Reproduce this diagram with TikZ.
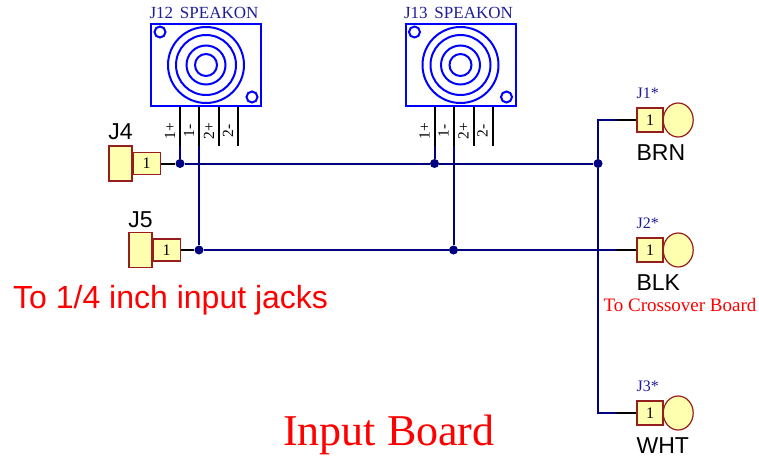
\documentclass[tikz,border=0pt]{standalone}
\usepackage{fontspec}
\setmainfont{Liberation Serif}
\setsansfont{Liberation Sans}
\usetikzlibrary{calc,positioning,shapes.geometric}
\definecolor{boxblue}{RGB}{0,0,255}
\definecolor{wirenavy}{RGB}{0,0,128}
\definecolor{refnavy}{RGB}{30,30,150}
\definecolor{plugred}{RGB}{150,30,30}
\definecolor{plugfill}{RGB}{255,255,176}

\begin{document}
\begin{tikzpicture}[
		x=1pt, y=-1pt,
		speakon/.style={
			rectangle,
			draw=boxblue,
			line width=2pt,
			minimum width=110pt,
			minimum height=82pt,
			inner sep=0pt
		},
		ring/.style={draw=boxblue, line width=2pt},
		pin/.style={draw=black, line width=2pt},
		wire/.style={draw=wirenavy, line width=2pt},
		junction/.style={circle, fill=wirenavy, inner sep=0pt, minimum size=9pt},
		plugbody/.style={
			rectangle,
			draw=plugred,
			fill=plugfill,
			line width=1.2pt,
			inner sep=0pt,
			minimum width=23pt,
			minimum height=35pt
		},
		plug/.style={
			rectangle,
			draw=plugred,
			fill=plugfill,
			line width=1.2pt,
			inner sep=0pt,
			minimum width=27pt,
			minimum height=22pt,
			font=\fontsize{16}{19}\selectfont
		},
		bulb/.style={
			ellipse,
			draw=plugred,
			fill=plugfill,
			line width=1.2pt,
			inner sep=0pt,
			minimum width=30pt,
			minimum height=34pt
		},
		refdes/.style={text=refnavy, font=\fontsize{16}{19}\selectfont, inner sep=0pt},
		pinlabel/.style={rotate=90, font=\fontsize{15.5}{18}\selectfont, inner sep=0pt},
		netlabel/.style={font=\sffamily\fontsize{23}{28}\selectfont, inner sep=0pt},
		note/.style={text=red, inner sep=0pt}
		]
		\useasboundingbox (0,0) rectangle (759,458);

		\node[speakon] (j12) at (206,65) {};
		\node[speakon] (j13) at (460.5,65) {};
		\node[refdes, font=\fontsize{17}{20}\selectfont, anchor=base, xshift=-2pt, yshift=5pt] (j12lbl) at (j12.north) {J12\hspace{0.4em}SPEAKON};
		\node[refdes, font=\fontsize{17}{20}\selectfont, anchor=base, xshift=-2pt, yshift=5pt] (j13lbl) at (j13.north) {J13\hspace{0.4em}SPEAKON};

		\foreach \s in {j12,j13} {
			\foreach \r in {38,30,19.5,11}
				\draw[ring] (\s.center) circle (\r pt);
			\draw[ring] ([xshift=10pt,yshift=-9pt]\s.north west) circle (5.5pt);
			\draw[ring] ([xshift=-10pt,yshift=10pt]\s.south east) circle (5.5pt);
			\foreach \dx/\lbl [count=\i] in {-26/1+,-7/1-,13/2+,32/2-} {
				\draw[pin] ([xshift=\dx pt]\s.south) -- ++(0,39) coordinate (\s e\i);
				\node[pinlabel] at ([xshift={\dx pt-10pt},yshift=-24pt]\s.south) {\lbl};
			}
		}

		% input jacks
		\node[plugbody] (j4b) at (120.5,163.5) {};
		\node[plug, right=0pt of j4b] (j4) {1};
		\node[netlabel, anchor=base, yshift=6pt] (j4lbl) at (j4b.north) {J4};
		\node[plugbody] (j5b) at (140.5,250) {};
		\node[plug, right=0pt of j5b] (j5) {1};
		\node[netlabel, anchor=base, yshift=4pt] (j5lbl) at (j5b.north) {J5};

		% crossover leads
		\node[plug, minimum width=26pt, minimum height=24pt] (j1) at (650,120) {1};
		\node[bulb, right=-1pt of j1] (j1c) {};
		\node[refdes, anchor=base west, yshift=9pt] (j1lbl) at (j1.north west) {J1*};
		\node[netlabel, anchor=base west, yshift=-28pt] (brn) at (j1.south west) {BRN};

		\node[plug, minimum width=26pt, minimum height=24pt] (j2) at (650,250) {1};
		\node[bulb, right=-1pt of j2] (j2c) {};
		\node[refdes, anchor=base west, yshift=9pt] (j2lbl) at (j2.north west) {J2*};
		\node[netlabel, anchor=base west, yshift=-28pt] (blk) at (j2.south west) {BLK};

		\node[plug, minimum width=26pt, minimum height=24pt] (j3) at (650,413) {1};
		\node[bulb, right=-1pt of j3] (j3c) {};
		\node[refdes, anchor=base west, yshift=9pt] (j3lbl) at (j3.north west) {J3*};
		\node[netlabel, anchor=base west, yshift=-28pt] (wht) at (j3.south west) {WHT};

		\node[junction] (d1) at (j12e1 |- j4.east) {};
		\node[junction] (d2) at (j13e1 |- d1) {};
		\node[junction] (d3) at (j12e2 |- j5.east) {};
		\node[junction] (d4) at (j13e2 |- d3) {};
		\node[junction] (d5) at (598,163.5) {};

		\draw[pin] (j1.west) -- ++(-20,0) coordinate (s1);
		\draw[pin] (j2.west) -- ++(-20,0) coordinate (s2);
		\draw[pin] (j3.west) -- ++(-20,0) coordinate (s3);
		\draw[pin] (j4) -- (d1);
		\draw[pin] (j5) -- (d3);

		\draw[wire] (j12e1) -- (d1);
		\draw[wire] (j13e1) -- (d2);
		\draw[wire] (j12e2) -- (d3);
		\draw[wire] (j13e2) -- (d4);
		\draw[wire] (d1) -- (d2) -- (d5);
		\draw[wire] (d3) -- (d4) -- (s2);
		\draw[wire] (s1) -| (d5);
		\draw[wire] (d5) |- (s3);

		\node[note, font=\sffamily\fontsize{32}{38}\selectfont, anchor=base west] (jacks) at (13,308) {To 1/4 inch input jacks};
		\node[note, font=\fontsize{19}{23}\selectfont, anchor=base] (xover) at (680,311) {To Crossover Board};
		\node[note, font=\fontsize{44}{52}\selectfont, anchor=base west] (title) at (283,445) {Input Board};
		%\draw[wire] (d5) -- (s2);
\end{tikzpicture}
\end{document}
